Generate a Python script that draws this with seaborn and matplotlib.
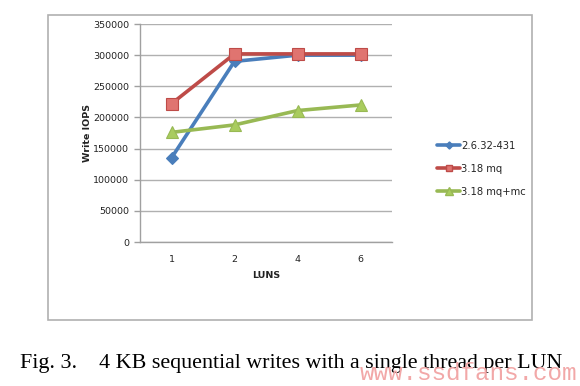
import matplotlib
matplotlib.use("Agg")
import matplotlib.pyplot as plt
import seaborn as sns
import pandas as pd
from matplotlib.patches import Rectangle
from matplotlib.lines import Line2D

luns = ["1", "2", "4", "6"]
series_names = ["2.6.32-431", "3.18 mq", "3.18 mq+mc"]
v_old = [135000, 290000, 300000, 300000]
v_mq = [222000, 302000, 302000, 302000]
v_mqmc = [176000, 188000, 211000, 220000]
yticks = [0, 50000, 100000, 150000, 200000, 250000, 300000, 350000]

colors = {"2.6.32-431": "#4A7EBB", "3.18 mq": "#BE4B48", "3.18 mq+mc": "#98B954"}
faces = {"2.6.32-431": "#4A7EBB", "3.18 mq": "#E07470", "3.18 mq+mc": "#A9CC5E"}
markers = {"2.6.32-431": "D", "3.18 mq": "s", "3.18 mq+mc": "^"}
msize = {"2.6.32-431": 6, "3.18 mq": 8, "3.18 mq+mc": 8.5}

rows = []
for name, vals in zip(series_names, [v_old, v_mq, v_mqmc]):
    for l, v in zip(luns, vals):
        rows.append({"LUNS": l, "Write IOPS": v, "series": name})
df = pd.DataFrame(rows)

sns.set_style("white")
plt.rcParams["font.family"] = ["DejaVu Sans"]

fig = plt.figure(figsize=(5.8, 3.86), dpi=100)
ax = fig.add_axes([140/580, 1-242/386, (392-140)/580, (242-24)/386])

sns.lineplot(data=df, x="LUNS", y="Write IOPS", hue="series", style="series",
             palette=colors, markers=markers, dashes=False, linewidth=2.6,
             sort=False, legend=False, ax=ax, markersize=7)

for line, name in zip(ax.get_lines(), series_names):
    line.set_markerfacecolor(faces[name])
    line.set_markeredgecolor(colors[name])
    line.set_markersize(msize[name])
    line.set_markeredgewidth(0.8)

ax.set_xlim(-0.5, 3.5)
ax.set_ylim(0, 350000)
ax.set_yticks(yticks)
ax.set_yticklabels([str(t) for t in yticks])
ax.yaxis.grid(True, color="#b0b0b0", linewidth=1)
ax.set_axisbelow(True)
for s in ["top", "right"]:
    ax.spines[s].set_visible(False)
for s in ["left", "bottom"]:
    ax.spines[s].set_color("#a0a0a0")
    ax.spines[s].set_linewidth(1)
ax.tick_params(axis="y", which="both", left=True, length=4, width=1, color="#a0a0a0",
               labelsize=6.8, pad=4, labelcolor="#222222")
ax.tick_params(axis="x", bottom=False, labelsize=6.8, pad=6, labelcolor="#222222")
ax.set_xlabel("LUNS", fontsize=6.8, fontweight="bold", labelpad=5, color="#222222")
ax.set_ylabel("Write IOPS", fontsize=6.8, fontweight="bold", labelpad=0.5, color="#222222")

handles = [Line2D([0], [0], color=colors[n], lw=2.6, marker=markers[n],
                  markerfacecolor=faces[n], markeredgecolor=colors[n],
                  markersize=msize[n]*0.6) for n in series_names]
leg = fig.legend(handles, series_names, loc="upper left",
                 bbox_to_anchor=(433/580, 1-137/386), frameon=False,
                 fontsize=7.2, handlelength=2.3, handletextpad=0.1,
                 labelspacing=1.3, borderaxespad=0)

fig.patches.append(Rectangle((48/580, 1-320/386), 484/580, 305/386,
                             transform=fig.transFigure, fill=False,
                             edgecolor="#b0b0b0", linewidth=1.2))

fig.text(20/580, 1-368/386, "Fig. 3.    4 KB sequential writes with a single thread per LUN",
         family="Liberation Serif", fontsize=15.8, va="baseline", ha="left", color="black")
fig.text(577/580, 1/386, "www.ssdfans.com", family="Liberation Mono", fontsize=17.5,
         va="bottom", ha="right", color="#f2a8a8")

fig.savefig("out.png", dpi=100)
